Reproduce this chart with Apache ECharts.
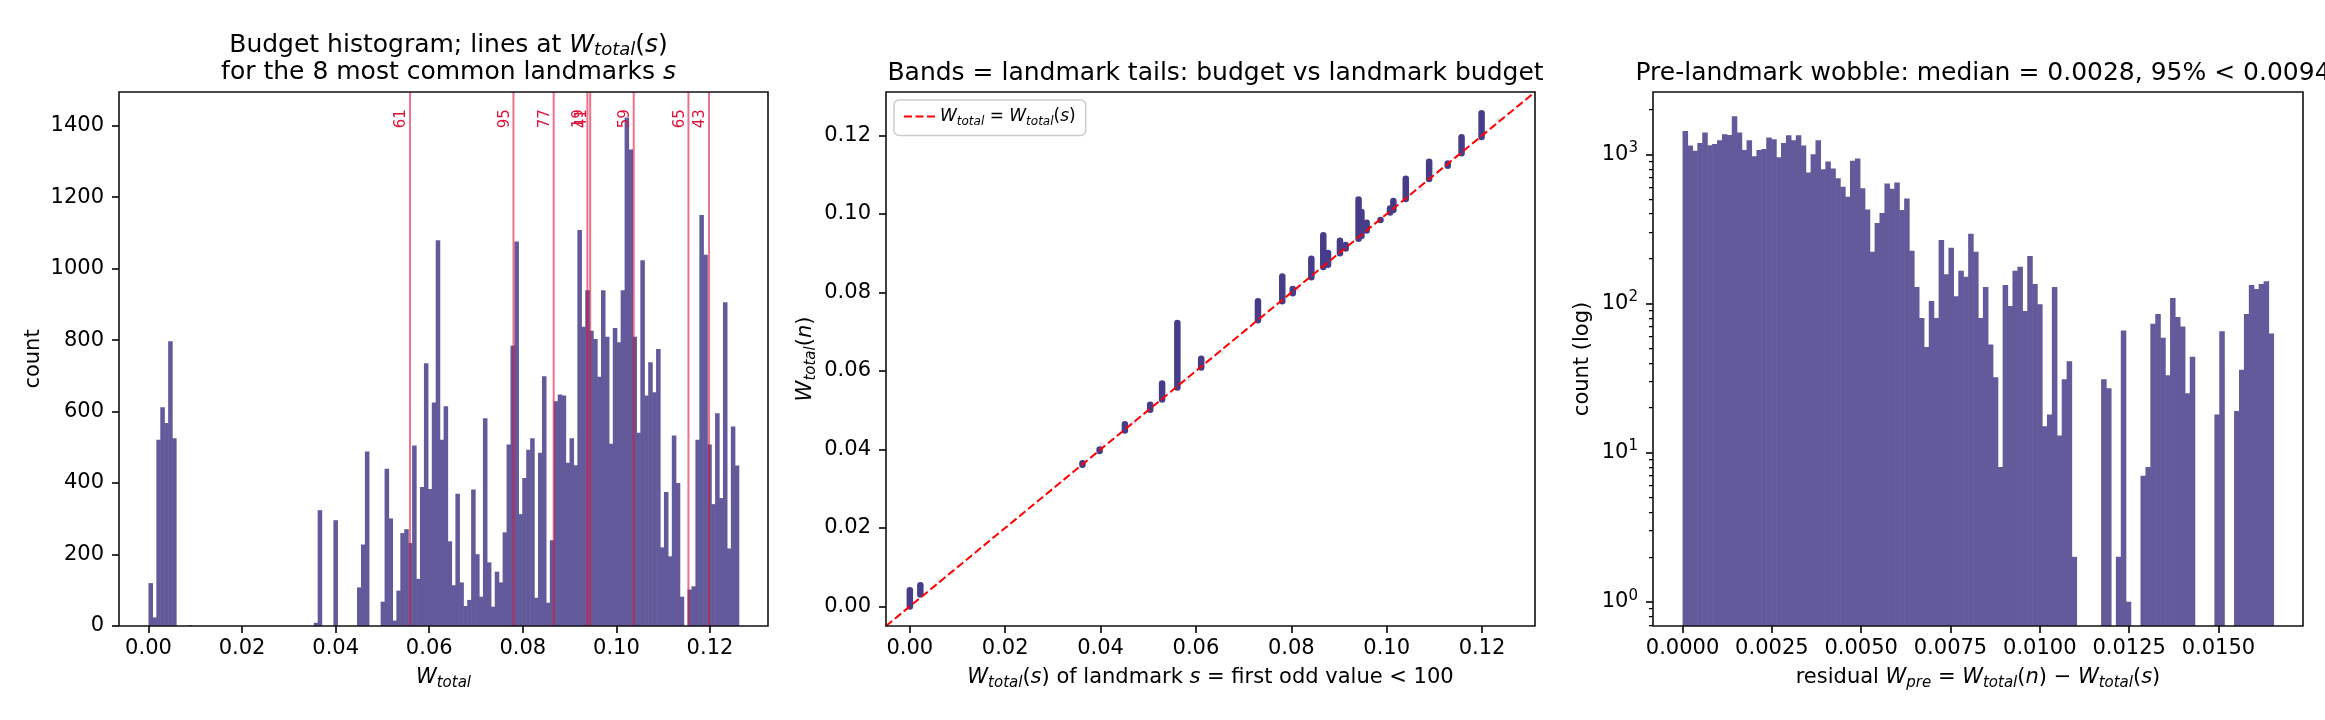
<!DOCTYPE html>
<html>
<head>
<meta charset="utf-8">
<script src="https://cdn.jsdelivr.net/npm/echarts@6/dist/echarts.min.js"></script>
<style>
html, body { margin: 0; padding: 0; background: #fff; }
#chart { width: 2325px; height: 720px; }
</style>
</head>
<body>
<div id="chart"></div>
<script>
// ---- data ----
// left: histogram of W_total, 150 equal bins from 0
var histStart = 0;
var histBinWidth = 0.12614 / 150;
var histCounts = [
  120, 24, 521, 612, 568, 797, 525, 0, 0, 0,
  2, 0, 0, 0, 0, 0, 0, 0, 0, 0,
  0, 0, 0, 0, 0, 0, 0, 0, 0, 0,
  0, 0, 0, 0, 0, 0, 0, 0, 0, 0,
  0, 0, 9, 324, 0, 0, 0, 296, 0, 0,
  0, 0, 0, 108, 228, 488, 0, 0, 0, 68,
  440, 301, 15, 99, 260, 271, 232, 505, 132, 389,
  735, 383, 625, 1079, 521, 615, 237, 114, 370, 122,
  56, 73, 382, 201, 82, 581, 178, 54, 152, 122,
  262, 508, 784, 1076, 313, 414, 493, 525, 79, 485,
  699, 65, 240, 629, 648, 645, 457, 525, 450, 1108,
  837, 939, 826, 803, 697, 939, 809, 510, 834, 794,
  939, 1423, 1333, 809, 541, 1023, 645, 738, 654, 775,
  220, 375, 195, 533, 400, 82, 0, 102, 111, 521,
  1150, 1039, 508, 341, 595, 358, 906, 217, 558, 449
];
var histXTicks = [0, 0.02, 0.04, 0.06, 0.08, 0.10, 0.12];
var histYTicks = [0, 200, 400, 600, 800, 1000, 1200, 1400];

// the 8 most common landmarks s and their W_total(s)
var landmarkIds = [61, 95, 77, 19, 41, 59, 65, 43];
var landmarkW = [0.0559, 0.0780, 0.0866, 0.0938, 0.0944, 0.1037, 0.1154, 0.1198];

// middle: bands of points, W_total(s) -> W_total(n) range
var bandX    = [0.0000, 0.0022, 0.0362, 0.0398, 0.0451, 0.0504, 0.0529, 0.0561, 0.0611, 0.0730,
                0.0781, 0.0803, 0.0842, 0.0867, 0.0877, 0.0902, 0.0914, 0.0941, 0.0947, 0.0958,
                0.0987, 0.1007, 0.1014, 0.1040, 0.1089, 0.1128, 0.1157, 0.1199];
var bandLow  = [0.0000, 0.0030, 0.0361, 0.0396, 0.0448, 0.0501, 0.0527, 0.0558, 0.0609, 0.0729,
                0.0778, 0.0798, 0.0839, 0.0865, 0.0871, 0.0900, 0.0912, 0.0937, 0.0944, 0.0958,
                0.0985, 0.1004, 0.1010, 0.1038, 0.1089, 0.1123, 0.1155, 0.1196];
var bandHigh = [0.0041, 0.0054, 0.0365, 0.0400, 0.0464, 0.0514, 0.0568, 0.0722, 0.0631, 0.0778,
                0.0841, 0.0809, 0.0886, 0.0946, 0.0901, 0.0932, 0.0921, 0.1037, 0.1005, 0.0978,
                0.0985, 0.1014, 0.1033, 0.1090, 0.1133, 0.1129, 0.1196, 0.1257];
var faintPts = [[0.0062, 0.0064], [0.0088, 0.0087], [0.0402, 0.0412], [0.0470, 0.0469],
                [0.0584, 0.0579], [0.0653, 0.0649], [0.0813, 0.0808], [0.1072, 0.1065],
                [0.1235, 0.1239]];
var diagLine = [[-0.005, -0.005], [0.1311, 0.1311]];
var scatterTicks = [0, 0.02, 0.04, 0.06, 0.08, 0.10, 0.12];

// right: residual histogram, 120 equal bins from 0, log counts
var residStart = 0;
var residBinWidth = 0.01654 / 120;
var residCounts = [
  1435, 1146, 1057, 1191, 1403, 1153, 1172, 1245, 1365, 1350,
  1803, 1403, 1068, 1245, 973, 1068, 1086, 1300, 1265, 958,
  1191, 1343, 1245, 1343, 1146, 757, 1000, 1245, 796, 897,
  805, 691, 606, 520, 907, 937, 593, 427, 222, 347,
  405, 637, 587, 647, 423, 506, 226, 129, 80, 51,
  104, 80, 267, 157, 236, 112, 166, 151, 293, 222,
  80, 129, 53, 32, 8, 133, 96, 166, 176, 89,
  208, 135, 99, 15, 18, 129, 13, 31, 41, 2,
  0, 0, 0, 0, 0, 31, 27, 0, 2, 66,
  1, 0, 0, 7, 8, 73, 85, 59, 33, 109,
  81, 70, 25, 44, 0, 0, 0, 0, 18, 65,
  0, 0, 19, 36, 85, 133, 125, 135, 141, 63
];
var residTicks = [0, 0.0025, 0.0050, 0.0075, 0.0100, 0.0125, 0.0150];
var logTicks = [1, 10, 100, 1000];

// ---- styling ----
var FONT = 'DejaVu Sans';
var BAR = '#635a9c';
var BAND = '#463d8a';
var minorLogTicks = [];
[0.1, 1, 10, 100, 1000].forEach(function (d) {
  for (var k = 2; k <= 9; k++) minorLogTicks.push(d * k);
});

// n = upright, i = italic, s = italic subscript
function mathRich(size, lh) {
  lh = lh || Math.round(size * 1.3);
  return {
    n: { fontFamily: FONT, fontSize: size, fontWeight: 'normal', lineHeight: lh, color: '#000' },
    i: { fontFamily: FONT, fontSize: size, fontWeight: 'normal', fontStyle: 'italic', lineHeight: lh, color: '#000' },
    s: { fontFamily: FONT, fontSize: Math.round(size * 0.7), fontWeight: 'normal', fontStyle: 'italic',
         lineHeight: Math.round(lh - size * 0.58), verticalAlign: 'bottom', color: '#000' }
  };
}

var tickStyle = { show: true, inside: false, length: 7, lineStyle: { color: '#000', width: 1.6 } };
var noLine = { show: false, onZero: false };
function labelStyle(ticks, fmt, margin) {
  return { customValues: ticks, formatter: fmt, fontSize: 21, color: '#000', fontFamily: FONT, margin: margin };
}
function fixed(n) { return function (v) { return v.toFixed(n); }; }

function binData(counts, start, width, dropZero) {
  var out = [];
  counts.forEach(function (c, i) {
    if (dropZero && c <= 0) return;
    out.push([start + i * width, start + (i + 1) * width, c]);
  });
  return out;
}

function renderBin(params, api) {
  var c = api.value(2);
  if (!c) return null;
  var p0 = api.coord([api.value(0), c]);
  var p1 = api.coord([api.value(1), c]);
  var cs = params.coordSys;
  var bottom = cs.y + cs.height;
  return {
    type: 'rect',
    shape: { x: p0[0], y: p0[1], width: p1[0] - p0[0] + 0.6, height: bottom - p0[1] },
    style: { fill: BAR }
  };
}

var histYMax = 1494;

var grids = [
  { left: 119, top: 92, width: 649, height: 534 },
  { left: 886, top: 92, width: 649, height: 534 },
  { left: 1653, top: 92, width: 650, height: 534 }
].map(function (g) {
  return Object.assign({ show: true, borderColor: '#111', borderWidth: 1.6, backgroundColor: 'transparent', z: 10 }, g);
});

var option = {
  backgroundColor: '#fff',
  animation: false,
  title: [
    { text: '{n|Budget histogram; lines at }{i|W}{s|total}{n|(}{i|s}{n|)}\n{n|for the 8 most common landmarks }{i|s}',
      left: 443.5, top: 27, textAlign: 'center', textVerticalAlign: 'top',
      textStyle: { fontWeight: 'normal', rich: mathRich(25, 27) } },
    { text: 'Bands = landmark tails: budget vs landmark budget',
      left: 1210.5, top: 52, textAlign: 'center',
      textStyle: { fontFamily: FONT, fontSize: 25, fontWeight: 'normal', color: '#000', lineHeight: 32 } },
    { text: 'Pre-landmark wobble: median = 0.0028, 95% < 0.0094',
      left: 1978, top: 52, textAlign: 'center',
      textStyle: { fontFamily: FONT, fontSize: 25, fontWeight: 'normal', color: '#000', lineHeight: 32 } }
  ],
  legend: {
    data: [{ name: 'diag', icon: 'path://M0 0h8v2h-8z M11.5 0h8v2h-8z M23 0h8v2h-8z' }],
    left: 894, top: 100,
    padding: [8, 10, 8, 10],
    backgroundColor: 'rgba(255,255,255,0.8)',
    borderColor: '#ccc', borderWidth: 1.5, borderRadius: 5,
    itemWidth: 31, itemHeight: 2, itemGap: 10,
    formatter: function () { return '{i|W}{s|total}{n| = }{i|W}{s|total}{n|(}{i|s}{n|)}'; },
    textStyle: { rich: mathRich(17) }
  },
  grid: grids,
  xAxis: [
    { type: 'value', gridIndex: 0, min: -0.0063, max: 0.1324,
      axisLine: noLine, splitLine: { show: false },
      axisTick: Object.assign({ customValues: histXTicks }, tickStyle),
      axisLabel: labelStyle(histXTicks, fixed(2), 12),
      name: '{i|W}{s|total}', nameLocation: 'middle', nameGap: 38,
      nameTextStyle: { rich: mathRich(21) } },
    { type: 'value', gridIndex: 1, min: -0.005, max: 0.1311,
      axisLine: noLine, splitLine: { show: false },
      axisTick: Object.assign({ customValues: scatterTicks }, tickStyle),
      axisLabel: labelStyle(scatterTicks, fixed(2), 12),
      name: '{i|W}{s|total}{n|(}{i|s}{n|) of landmark }{i|s}{n| = first odd value < 100}',
      nameLocation: 'middle', nameGap: 38, nameTextStyle: { rich: mathRich(21) } },
    { type: 'value', gridIndex: 2, min: -0.000827, max: 0.017367,
      axisLine: noLine, splitLine: { show: false },
      axisTick: Object.assign({ customValues: residTicks }, tickStyle),
      axisLabel: labelStyle(residTicks, fixed(4), 12),
      name: '{n|residual }{i|W}{s|pre}{n| = }{i|W}{s|total}{n|(}{i|n}{n|) − }{i|W}{s|total}{n|(}{i|s}{n|)}',
      nameLocation: 'middle', nameGap: 38, nameTextStyle: { rich: mathRich(21) } }
  ],
  yAxis: [
    { type: 'value', gridIndex: 0, min: 0, max: histYMax,
      axisLine: noLine, splitLine: { show: false },
      axisTick: Object.assign({ customValues: histYTicks }, tickStyle),
      axisLabel: labelStyle(histYTicks, function (v) { return String(v); }, 15),
      name: 'count', nameLocation: 'middle', nameGap: 72, nameRotate: 90,
      nameTextStyle: { fontFamily: FONT, fontSize: 21, color: '#000', lineHeight: 27 } },
    { type: 'value', gridIndex: 1, min: -0.005, max: 0.1311,
      axisLine: noLine, splitLine: { show: false },
      axisTick: Object.assign({ customValues: scatterTicks }, tickStyle),
      axisLabel: labelStyle(scatterTicks, fixed(2), 15),
      name: '{i|W}{s|total}{n|(}{i|n}{n|)}', nameLocation: 'middle', nameGap: 67, nameRotate: 90,
      nameTextStyle: { rich: mathRich(21) } },
    { type: 'log', logBase: 10, gridIndex: 2, min: 0.687, max: 2620, position: 'left',
      axisLine: noLine, splitLine: { show: false }, minorTick: { show: false },
      axisTick: Object.assign({ customValues: logTicks }, tickStyle),
      axisLabel: {
        customValues: logTicks, margin: 15, color: '#000',
        formatter: function (v) { return '{b|10}{p|' + Math.round(Math.log10(v)) + '}'; },
        rich: {
          b: { fontFamily: FONT, fontSize: 21, lineHeight: 27, color: '#000' },
          p: { fontFamily: FONT, fontSize: 15, lineHeight: 15, verticalAlign: 'top', color: '#000' }
        }
      },
      name: 'count (log)', nameLocation: 'middle', nameGap: 57, nameRotate: 90,
      nameTextStyle: { fontFamily: FONT, fontSize: 21, color: '#000', lineHeight: 27 } },
    { type: 'log', logBase: 10, gridIndex: 2, min: 0.687, max: 2620, position: 'left', offset: 0,
      axisLine: noLine, splitLine: { show: false }, minorTick: { show: false },
      axisLabel: { show: false },
      axisTick: { show: true, inside: false, length: 4, customValues: minorLogTicks,
                  lineStyle: { color: '#000', width: 1.25 } } }
  ],
  series: [
    { type: 'custom', name: 'hist', xAxisIndex: 0, yAxisIndex: 0,
      encode: { x: [0, 1], y: 2 },
      data: binData(histCounts, histStart, histBinWidth, false),
      renderItem: renderBin, z: 2 },
    { type: 'custom', name: 'landmarks', xAxisIndex: 0, yAxisIndex: 0,
      encode: { x: 0 },
      data: landmarkW.map(function (w, i) { return [w, landmarkIds[i]]; }),
      renderItem: function (params, api) {
        var cs = params.coordSys;
        var x = api.coord([api.value(0), 0])[0];
        var ty = api.coord([0, histYMax * 0.968])[1];
        return {
          type: 'group',
          children: [
            { type: 'line', shape: { x1: x, y1: cs.y + cs.height, x2: x, y2: cs.y },
              style: { stroke: 'rgba(220,20,60,0.6)', lineWidth: 2 } },
            { type: 'text', x: x - 1, y: ty, rotation: Math.PI / 2,
              style: { text: String(api.value(1)), fill: '#dc143c', fontSize: 15, fontFamily: FONT,
                       align: 'right', verticalAlign: 'bottom' } }
          ]
        };
      }, z: 3 },
    { type: 'scatter', name: 'faint', xAxisIndex: 1, yAxisIndex: 1,
      data: faintPts, symbolSize: 5,
      itemStyle: { color: 'rgba(72,61,139,0.18)' }, z: 2 },
    { type: 'custom', name: 'bands', xAxisIndex: 1, yAxisIndex: 1,
      encode: { x: 0, y: [1, 2] },
      data: bandX.map(function (x, i) { return [x, bandLow[i], bandHigh[i]]; }),
      renderItem: function (params, api) {
        var p0 = api.coord([api.value(0), api.value(1)]);
        var p1 = api.coord([api.value(0), api.value(2)]);
        return { type: 'line', shape: { x1: p0[0], y1: p0[1], x2: p1[0], y2: p1[1] + 0.01 },
                 style: { stroke: BAND, lineWidth: 6.5, lineCap: 'round' } };
      }, z: 3 },
    { type: 'line', name: 'diag', xAxisIndex: 1, yAxisIndex: 1,
      data: diagLine, symbol: 'none',
      lineStyle: { color: '#ff0000', width: 2, type: [8, 3.5] },
      itemStyle: { color: '#ff0000' }, z: 4 },
    { type: 'custom', name: 'resid', xAxisIndex: 2, yAxisIndex: 2,
      encode: { x: [0, 1], y: 2 },
      data: binData(residCounts, residStart, residBinWidth, true),
      renderItem: renderBin, z: 2 }
  ]
};

var chart = echarts.init(document.getElementById('chart'), null, { renderer: 'canvas' });
chart.setOption(option);
</script>
</body>
</html>
